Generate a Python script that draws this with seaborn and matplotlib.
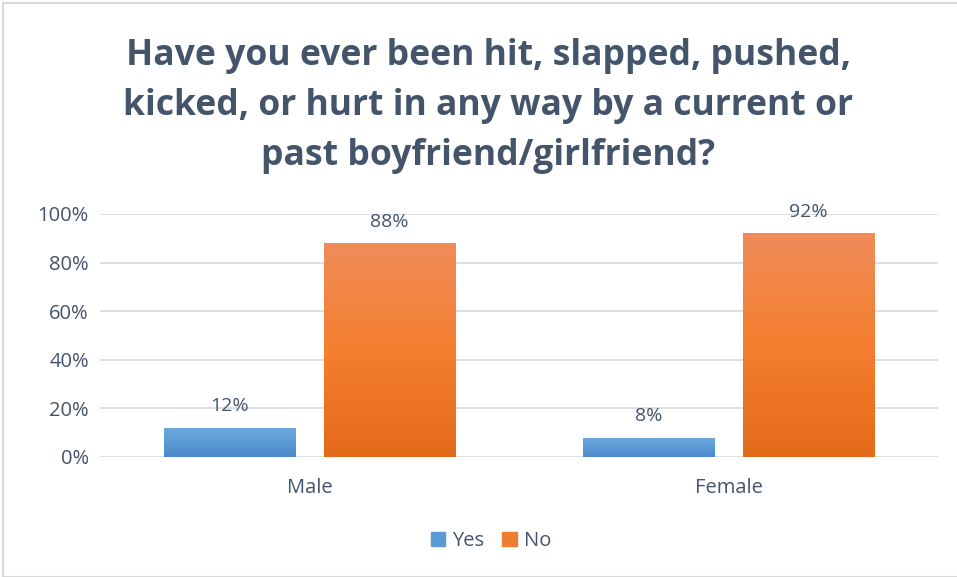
import numpy as np
import pandas as pd
import seaborn as sns
import matplotlib.pyplot as plt
from matplotlib.colors import LinearSegmentedColormap
from matplotlib.patches import Rectangle

# Data
genders = ['Male', 'Female']
answers = ['Yes', 'No']
yes_pct = [12, 8]
no_pct = [88, 92]

df = pd.DataFrame({
    'Gender': genders * 2,
    'Answer': ['Yes'] * 2 + ['No'] * 2,
    'Percent': yes_pct + no_pct,
})

sns.set_style('white')
plt.rcParams['font.family'] = ['Open Sans', 'DejaVu Sans']
text_col = '#44546A'

fig = plt.figure(figsize=(9.57, 5.77), dpi=100)
ax = fig.add_axes([100 / 957, 1 - 457 / 577, 838 / 957, 243 / 577])

palette = {'Yes': '#5B9BD5', 'No': '#ED7D31'}
sns.barplot(data=df, x='Gender', y='Percent', hue='Answer', hue_order=answers,
            order=genders, palette=palette, width=0.764, gap=0.18, ax=ax,
            legend=True)

# gradient fill for the bars (Excel style)
grads = {
    'Yes': ['#6FA8DC', '#5B9BD5', '#4A8ACB'],
    'No': ['#F08C5A', '#F47F2E', '#E46A19'],
}
for cont, ans in zip(ax.containers, answers):
    cmap = LinearSegmentedColormap.from_list(ans, grads[ans][::-1])
    for bar in cont:
        x0, y0 = bar.get_x(), bar.get_y()
        w, h = bar.get_width(), bar.get_height()
        im = ax.imshow(np.linspace(0, 1, 256).reshape(-1, 1), cmap=cmap,
                       extent=[x0, x0 + w, y0, y0 + h], origin='lower',
                       aspect='auto', zorder=bar.get_zorder())
        im.set_clip_path(bar)
        bar.set_edgecolor('none')
    ax.bar_label(cont, labels=[f'{v:.0f}%' for v in cont.datavalues],
                 padding=9, fontsize=14, color=text_col)

ax.set_xlim(-0.5, 1.5)
ax.set_ylim(0, 100)
ax.set_yticks(range(0, 101, 20))
ax.set_yticklabels([f'{t}%' for t in range(0, 101, 20)])
ax.yaxis.grid(True, color='#D9DDE3', linewidth=1.3)
ax.set_axisbelow(True)
for s in ax.spines.values():
    s.set_visible(False)
ax.tick_params(axis='both', length=0, labelsize=14.5, labelcolor=text_col)
ax.tick_params(axis='x', pad=15)
ax.tick_params(axis='y', pad=8)
ax.set_xlabel('')
ax.set_ylabel('')

fig.text(488 / 957, 1 - 106 / 577,
         'Have you ever been hit, slapped, pushed,\nkicked, or hurt in any way by a current or\npast boyfriend/girlfriend?',
         ha='center', va='center', fontsize=25.6, fontweight='bold', color=text_col,
         linespacing=1.5)

leg = ax.get_legend()
leg.remove()
handles = [Rectangle((0, 0), 1, 1, color=palette[a]) for a in answers]
fig.legend(handles, answers, loc='center', bbox_to_anchor=(491 / 957, 1 - 541 / 577),
           ncol=2, frameon=False, fontsize=14.5, labelcolor=text_col,
           handlelength=0.7, handleheight=0.7, handletextpad=0.35, columnspacing=0.9)

# chart border
fig.patches.append(Rectangle((3 / 957, 0), 1, 1 - 3 / 577, transform=fig.transFigure,
                             fill=False, edgecolor='#D9D9D9', linewidth=1.5))

fig.savefig('out.png', dpi=100)
